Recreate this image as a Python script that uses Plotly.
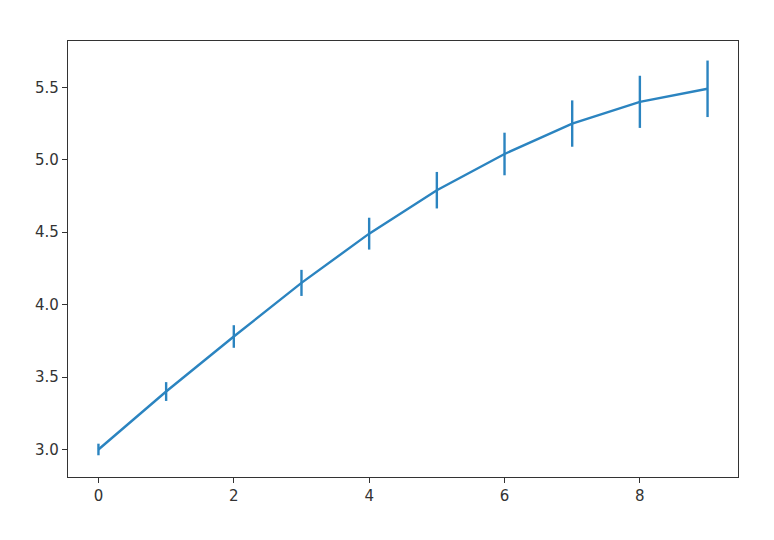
import plotly.graph_objects as go

# values
x_vals = [0, 1, 2, 3, 4, 5, 6, 7, 8, 9]
y_vals = [3.00, 3.40, 3.78, 4.15, 4.49, 4.79, 5.04, 5.25, 5.40, 5.49]
y_err = [0.04, 0.065, 0.078, 0.09, 0.11, 0.126, 0.147, 0.16, 0.18, 0.195]

blue = "#2b84c0"

fig = go.Figure()
fig.add_trace(go.Scatter(
    x=x_vals, y=y_vals,
    mode="lines",
    line=dict(color=blue, width=2.4),
    error_y=dict(type="data", array=y_err, visible=True,
                 color=blue, thickness=2.4, width=0),
    showlegend=False,
))

axis_style = dict(
    showline=True, linecolor="#333333", linewidth=1.3, mirror=True,
    ticks="outside", ticklen=5, tickwidth=1.3, tickcolor="#333333",
    showgrid=False, zeroline=False,
    tickfont=dict(family="DejaVu Sans", size=15, color="#333333"),
)

# page body adds an 8px offset, so margins are shifted by that
fig.update_layout(
    width=774, height=540,
    margin=dict(l=60, r=44, t=33, b=71),
    paper_bgcolor="white", plot_bgcolor="white",
    xaxis=dict(range=[-0.45, 9.45], tick0=0, dtick=2, **axis_style),
    yaxis=dict(range=[2.81, 5.82], tick0=3.0, dtick=0.5, tickformat=".1f", **axis_style),
)

fig.write_html("out.html")
